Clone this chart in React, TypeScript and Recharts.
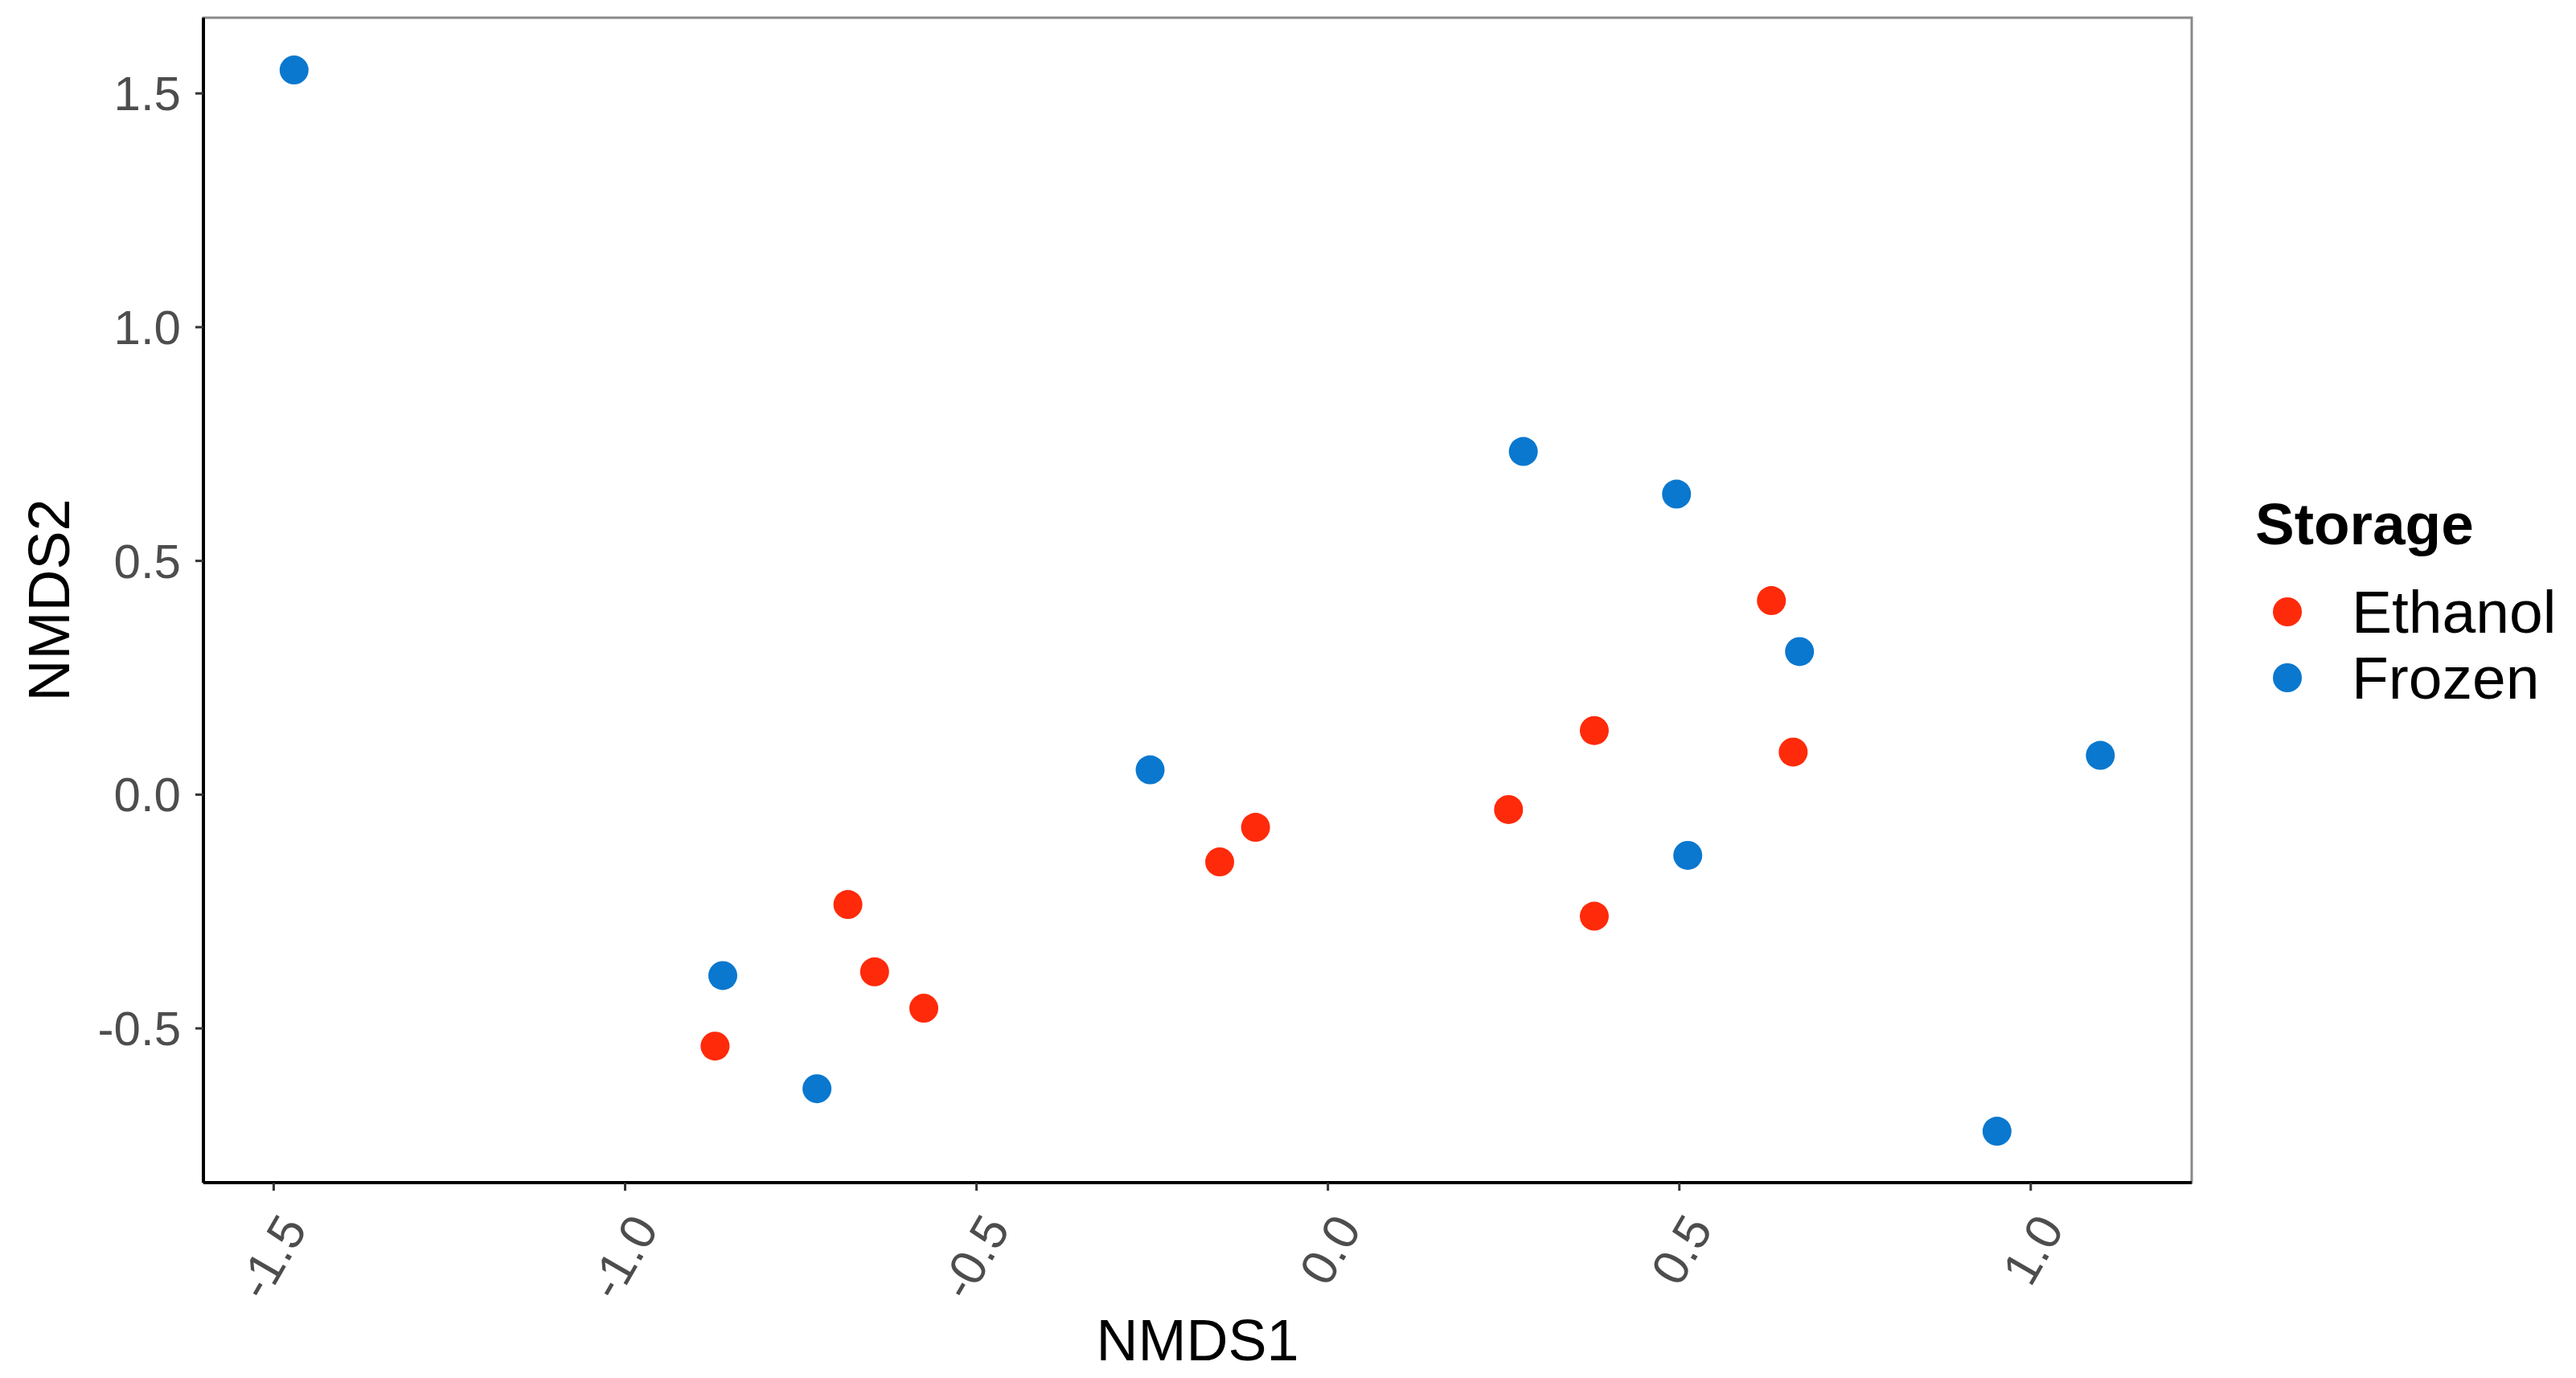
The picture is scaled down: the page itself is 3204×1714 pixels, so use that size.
import { Label, ReferenceArea, Scatter, ScatterChart, XAxis, YAxis } from "recharts";

// NMDS ordination, storage method
const ethanolX = [-0.872, -0.683, -0.645, -0.575, -0.154, -0.103, 0.257, 0.379, 0.379, 0.631, 0.662];
const ethanolY = [-0.538, -0.235, -0.379, -0.457, -0.144, -0.07, -0.032, 0.137, -0.26, 0.415, 0.091];
const frozenX = [-1.471, -0.861, -0.727, -0.253, 0.278, 0.496, 0.671, 0.512, 1.099, 0.952];
const frozenY = [1.55, -0.387, -0.629, 0.053, 0.734, 0.643, 0.306, -0.13, 0.084, -0.72];

const xTicks = [-1.5, -1.0, -0.5, 0.0, 0.5, 1.0];
const yTicks = [-0.5, 0.0, 0.5, 1.0, 1.5];
const xDomain: [number, number] = [-1.6, 1.229];
const yDomain: [number, number] = [-0.83, 1.662];

const groups = ["Ethanol", "Frozen"];
const colors = ["#FF2A0A", "#0A78CF"];

const ethanol = ethanolX.map((x, i) => ({ x, y: ethanolY[i] }));
const frozen = frozenX.map((x, i) => ({ x, y: frozenY[i] }));

const FONT = '"Liberation Sans", Arial, sans-serif';
const TICK_COLOR = "#4D4D4D";

const dot = (fill: string) => (p: any) => <circle cx={p.cx} cy={p.cy} r={18} fill={fill} />;

function XTick({ x, y, payload }: any) {
  return (
    <g transform={`translate(${x + 24},${y + 34})`}>
      <text transform="rotate(-60)" textAnchor="end" dy="0.35em" fill={TICK_COLOR} fontSize={62} fontFamily={FONT}>
        {payload.value.toFixed(1)}
      </text>
    </g>
  );
}

function YTick({ x, y, payload }: any) {
  return (
    <text x={x} y={y} dy="0.35em" textAnchor="end" fill={TICK_COLOR} fontSize={60} fontFamily={FONT}>
      {payload.value.toFixed(1)}
    </text>
  );
}

export default function App() {
  return (
    <div style={{ position: "absolute", left: 0, top: 0, width: 3204, height: 1714, background: "#fff" }}>
      <ScatterChart width={3204} height={1714} margin={{ top: 22, right: 478, bottom: 0, left: 0 }}>
        <ReferenceArea x1={xDomain[0]} x2={xDomain[1]} y1={yDomain[0]} y2={yDomain[1]} fill="none" stroke="#8a8a8a" strokeWidth={3} />
        <XAxis
          type="number"
          dataKey="x"
          domain={xDomain}
          ticks={xTicks}
          allowDataOverflow
          height={243}
          axisLine={{ stroke: "#000", strokeWidth: 4 }}
          tickLine={{ stroke: "#333", strokeWidth: 3 }}
          tickSize={10}
          tick={<XTick />}
        >
          <Label
            content={({ viewBox }: any) => (
              <text x={viewBox.x + viewBox.width / 2} y={viewBox.y + 221} textAnchor="middle" fontSize={72} fontFamily={FONT} fill="#000">
                NMDS1
              </text>
            )}
          />
        </XAxis>
        <YAxis
          type="number"
          dataKey="y"
          domain={yDomain}
          ticks={yTicks}
          allowDataOverflow
          width={253}
          axisLine={{ stroke: "#000", strokeWidth: 4 }}
          tickLine={{ stroke: "#333", strokeWidth: 3 }}
          tickSize={10}
          tickMargin={18}
          tick={<YTick />}
        >
          <Label
            content={({ viewBox }: any) => {
              const cx = 86;
              const cy = viewBox.y + viewBox.height / 2;
              return (
                <text x={cx} y={cy} transform={`rotate(-90, ${cx}, ${cy})`} textAnchor="middle" fontSize={72} fontFamily={FONT} fill="#000">
                  NMDS2
                </text>
              );
            }}
          />
        </YAxis>
        <Scatter name={groups[0]} data={ethanol} fill={colors[0]} shape={dot(colors[0])} isAnimationActive={false} />
        <Scatter name={groups[1]} data={frozen} fill={colors[1]} shape={dot(colors[1])} isAnimationActive={false} />
      </ScatterChart>
      <div style={{ position: "absolute", left: 2805, top: 612, fontFamily: FONT, color: "#000" }}>
        <div style={{ fontSize: 73, fontWeight: "bold", lineHeight: "80px", marginBottom: 28 }}>Storage</div>
        {groups.map((g, i) => (
          <div key={g} style={{ display: "flex", alignItems: "center", height: 82 }}>
            <svg width={120} height={82}>
              <circle cx={40} cy={41} r={18} fill={colors[i]} />
            </svg>
            <span style={{ fontSize: 75 }}>{g}</span>
          </div>
        ))}
      </div>
    </div>
  );
}
